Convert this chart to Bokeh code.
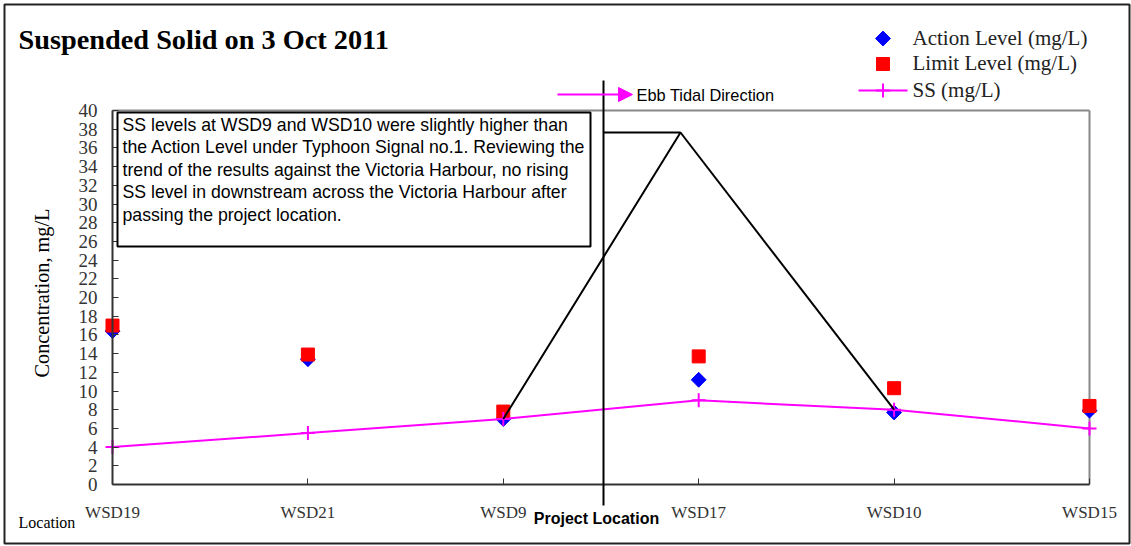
import math
from bokeh.plotting import figure
from bokeh.models import (Range1d, FixedTicker, Label, Arrow, NormalHead,
                          BoxAnnotation)
from bokeh.embed import file_html
from bokeh.resources import INLINE

# ---------------- data ----------------
locations = ["WSD19", "WSD21", "WSD9", "WSD17", "WSD10", "WSD15"]
action_level = [16.4, 13.4, 7.0, 11.2, 7.7, 7.9]
limit_level = [17.0, 13.9, 7.8, 13.7, 10.3, 8.4]
ss_level = [4.0, 5.5, 7.0, 9.0, 8.0, 6.0]
y_ticks = list(range(0, 41, 2))
legend_labels = ["Action Level (mg/L)", "Limit Level (mg/L)", "SS (mg/L)"]
callout_lines = [
    "SS levels at WSD9 and WSD10 were slightly higher than",
    "the Action Level under Typhoon Signal no.1. Reviewing the",
    "trend of the results against the Victoria Harbour, no rising",
    "SS level in downstream across the Victoria Harbour after",
    "passing the project location.",
]
x = list(range(len(locations)))

# ---------------- geometry (canvas px) ----------------
W, H = 1131, 546
X0_PX, XN_PX = 112, 1089
Y0_PX, YT_PX = 484, 110
XS = (XN_PX - X0_PX) / (len(locations) - 1)
YS = (Y0_PX - YT_PX) / y_ticks[-1]


def dx(px):
    return (px - X0_PX) / XS


def dy(py):
    return (Y0_PX - py) / YS


p = figure(width=W, height=H,
           x_range=Range1d(dx(0), dx(W)),
           y_range=Range1d(dy(H), dy(0)),
           output_backend="svg", toolbar_location=None,
           min_border=0, min_border_left=0, min_border_right=0,
           min_border_top=0, min_border_bottom=0)
p.title.visible = False
p.xgrid.visible = False
p.ygrid.visible = False
p.outline_line_color = None
p.background_fill_color = "white"
p.border_fill_color = "white"

AX_COL = "#333333"
xa = p.xaxis[0]
xa.fixed_location = 0
xa.bounds = (x[0], x[-1])
xa.ticker = FixedTicker(ticks=x)
xa.major_label_overrides = {i: n for i, n in zip(x, locations)}
xa.major_tick_in = 6
xa.major_tick_out = 0
xa.minor_tick_line_color = None
xa.axis_line_width = 2
xa.axis_line_color = AX_COL
xa.major_tick_line_color = AX_COL
xa.major_label_standoff = 18
xa.major_label_text_font = "Liberation Serif"
xa.major_label_text_font_size = "17px"
xa.major_label_text_color = AX_COL

ya = p.yaxis[0]
ya.fixed_location = 0
ya.bounds = (y_ticks[0], y_ticks[-1])
ya.ticker = FixedTicker(ticks=y_ticks)
ya.major_tick_in = 6
ya.major_tick_out = 0
ya.minor_tick_line_color = None
ya.axis_line_width = 2
ya.axis_line_color = AX_COL
ya.major_tick_line_color = AX_COL
ya.major_label_standoff = 15
ya.major_label_text_font = "Liberation Serif"
ya.major_label_text_font_size = "19px"
ya.major_label_text_color = AX_COL

# y axis title
p.add_layout(Label(x=dx(41), y=dy(292.5), text="Concentration, mg/L", angle=math.pi / 2,
                   text_font="Liberation Serif", text_font_size="20.3px",
                   text_align="center", text_baseline="middle", text_color="black"))

# outer chart border
p.add_layout(BoxAnnotation(left=dx(4), right=dx(1129), top=dy(4), bottom=dy(543),
                           fill_alpha=0, line_color="#222222", line_alpha=1.0,
                           line_width=2))

# frame border (top / right) in gray
p.line([x[0], x[-1]], [y_ticks[-1], y_ticks[-1]], line_color="#888888", line_width=2)
p.line([x[-1], x[-1]], [y_ticks[0], y_ticks[-1]], line_color="#888888", line_width=2)

# markers
ACT_KW = dict(marker="square", angle=math.pi / 4, size=10.5,
              fill_color="#0000ff", line_color="#0000ff")
LIM_KW = dict(marker="square", size=13, fill_color="#ff0000", line_color="#ff0000")
SS_LINE_KW = dict(line_color="#ff00ff", line_width=2)
SS_PT_KW = dict(marker="cross", size=14, line_color="#ff00ff", line_width=2)

p.scatter(x, action_level, **ACT_KW)
p.scatter(x, limit_level, **LIM_KW)
p.line(x, ss_level, **SS_LINE_KW)
p.scatter(x, ss_level, **SS_PT_KW)

# callout box + text
p.add_layout(BoxAnnotation(left=dx(117), right=dx(590), top=dy(112), bottom=dy(246),
                           fill_color="white", fill_alpha=1.0,
                           line_color="black", line_alpha=1.0, line_width=2))
for i, t in enumerate(callout_lines):
    p.add_layout(Label(x=dx(122), y=dy(124), y_offset=-22.5 * i, text=t,
                       text_font="Liberation Sans", text_font_size="17.7px",
                       text_baseline="middle", text_color="black"))

# project location line and callout pointer
project_x = dx(603)
apex_x, apex_y = dx(680), dy(132)
p.multi_line([[project_x, apex_x, x[2]], [apex_x, x[4]]],
             [[apex_y, apex_y, ss_level[2]], [apex_y, ss_level[4]]],
             line_color="black", line_width=2)
p.add_layout(Arrow(end=None, x_start=project_x, y_start=dy(505),
                   x_end=project_x, y_end=dy(80),
                   line_color="black", line_width=2))

# ebb tidal direction arrow
p.add_layout(Arrow(end=NormalHead(size=14, fill_color="#ff00ff", line_color="#ff00ff"),
                   x_start=dx(557), y_start=dy(94), x_end=dx(632), y_end=dy(94),
                   line_color="#ff00ff", line_width=2))
p.add_layout(Label(x=dx(636), y=dy(94), text="Ebb Tidal Direction",
                   text_font="Liberation Sans", text_font_size="16.4px",
                   text_baseline="middle", text_color="black"))

# title and other labels
p.add_layout(Label(x=dx(18), y=dy(39), text="Suspended Solid on 3 Oct 2011",
                   text_font="Liberation Serif", text_font_style="bold",
                   text_font_size="28.3px", text_baseline="middle", text_color="black"))
p.add_layout(Label(x=dx(18), y=dy(522), text="Location",
                   text_font="Liberation Serif", text_font_size="16px",
                   text_baseline="middle", text_color="black"))
p.add_layout(Label(x=dx(596), y=dy(518), text="Project Location",
                   text_font="Liberation Sans", text_font_style="bold",
                   text_font_size="16px", text_align="center",
                   text_baseline="middle", text_color="black"))

# legend (drawn by hand so that marker shapes and spacing match)
LEG_X = dx(882.5)
leg_px = [38, 63.5, 90]
leg_rows = [dy(v) for v in leg_px]
p.scatter([LEG_X], [leg_rows[0]], **ACT_KW)
p.scatter([LEG_X], [leg_rows[1]], **LIM_KW)
p.line([dx(858), dx(907)], [leg_rows[2], leg_rows[2]], **SS_LINE_KW)
p.scatter([LEG_X], [leg_rows[2]], **SS_PT_KW)
for lab, mid in zip(legend_labels, [37, 62, 89]):
    p.add_layout(Label(x=dx(912), y=dy(mid), text=lab,
                       text_font="Liberation Serif", text_font_size="21px",
                       text_baseline="middle", text_color="#222222"))

open("out.html", "w").write(file_html(p, INLINE))
